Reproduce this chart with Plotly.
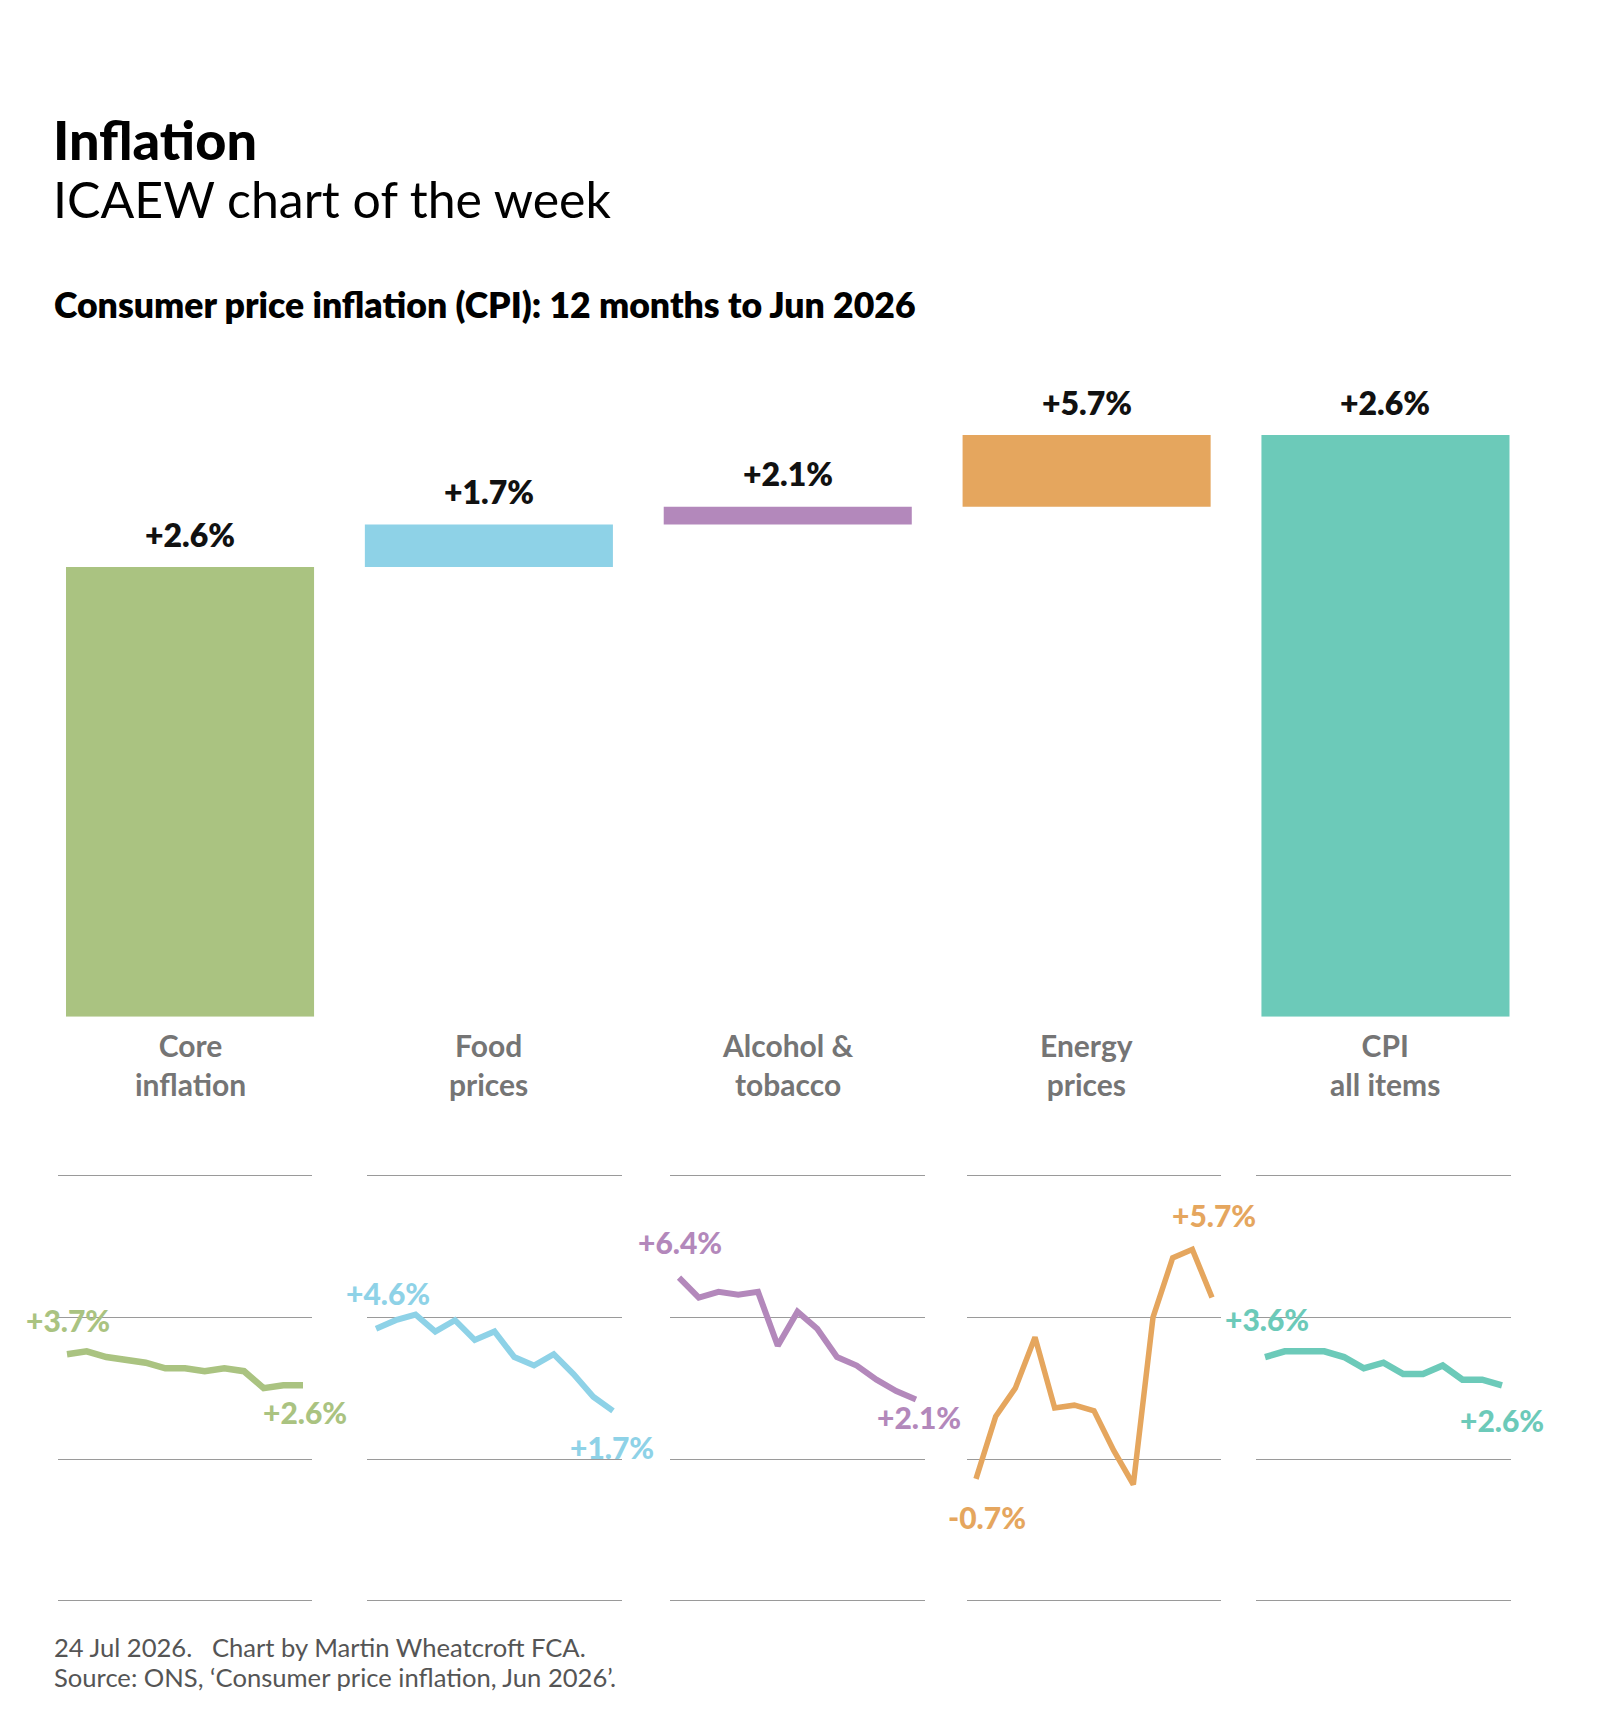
import plotly.graph_objects as go

W, H = 1600, 1730

# ---------------- data ----------------
categories = ["Core", "Food", "Alcohol", "Energy", "CPI"]
category_labels = ["Core<br>inflation", "Food<br>prices", "Alcohol &<br>tobacco", "Energy<br>prices", "CPI<br>all items"]
rate_labels = ["+2.6%", "+1.7%", "+2.1%", "+5.7%", "+2.6%"]
contributions = [2.01, 0.19, 0.08, 0.32, 2.60]   # percentage-point contribution to CPI
is_total = [False, False, False, False, True]
colors = ["#aac381", "#8ed2e7", "#b388bb", "#e5a65e", "#6ccab9"]

months = ["Jun 25", "Jul 25", "Aug 25", "Sep 25", "Oct 25", "Nov 25", "Dec 25",
          "Jan 26", "Feb 26", "Mar 26", "Apr 26", "May 26", "Jun 26"]
core = [3.7, 3.8, 3.6, 3.5, 3.4, 3.2, 3.2, 3.1, 3.2, 3.1, 2.5, 2.6, 2.6]
food = [4.6, 4.9, 5.1, 4.5, 4.9, 4.2, 4.5, 3.6, 3.3, 3.7, 3.0, 2.2, 1.7]
alcohol = [6.4, 5.7, 5.9, 5.8, 5.9, 4.0, 5.2, 4.6, 3.6, 3.3, 2.8, 2.4, 2.1]
energy = [-0.7, 1.5, 2.5, 4.3, 1.8, 1.9, 1.7, 0.3, -0.9, 5.0, 7.1, 7.4, 5.7]
cpi = [3.6, 3.8, 3.8, 3.8, 3.6, 3.2, 3.4, 3.0, 3.0, 3.3, 2.8, 2.8, 2.6]
spark_ticks = [-5, 0, 5, 10]

series = [core, food, alcohol, energy, cpi]

# ---------------- layout helpers ----------------
FONT = "Lato"


def px_x(p):
    return p / W


def px_y(p):
    return 1 - p / H


# waterfall bases
bases, tops = [], []
running = 0.0
for c, tot in zip(contributions, is_total):
    if tot:
        bases.append(0.0)
        tops.append(c)
    else:
        bases.append(running)
        running += c
        tops.append(running)

fig = go.Figure()

fig.add_trace(go.Bar(
    x=categories, y=contributions, base=bases,
    marker=dict(color=colors, line=dict(width=0)),
    width=0.83, hoverinfo="skip", showlegend=False,
    xaxis="x", yaxis="y",
))

# bar axes: baseline at y=1016.7px, 223.7 px per percentage point
bar_base_px = 1016.7
bar_scale = 223.7
bar_top_val = 3.0
bar_top_px = bar_base_px - bar_top_val * bar_scale

layout_axes = dict(
    xaxis=dict(domain=[px_x(40.6), px_x(1534.9)], range=[-0.5, 4.5], showticklabels=False,
               showgrid=False, zeroline=False, showline=False, fixedrange=True),
    yaxis=dict(domain=[px_y(bar_base_px), px_y(bar_top_px)], range=[0, bar_top_val],
               showticklabels=False, showgrid=False, zeroline=False, showline=False),
)

annotations = []

for cat, top, lab in zip(categories, tops, rate_labels):
    annotations.append(dict(xref="x", yref="y", x=cat, y=top, text=lab,
                            showarrow=False, yshift=33, xanchor="center", yanchor="middle",
                            font=dict(family=FONT, size=32, color="#111111", weight=800)))

for cat, lab in zip(categories, category_labels):
    annotations.append(dict(xref="x", yref="paper", x=cat, y=px_y(1064), text=lab,
                            showarrow=False, xanchor="center", yanchor="middle",
                            font=dict(family=FONT, size=30, color="#757575", weight=700)))

# ---------------- sparklines ----------------
panels = [(58, 312), (367, 622), (670, 925), (967, 1221), (1256, 1511)]
spark_top_px, spark_bot_px = 1160, 1615
zero_px, spark_scale = 1459, 28.33
y_hi = (zero_px - spark_top_px) / spark_scale
y_lo = (zero_px - spark_bot_px) / spark_scale
pad = 9 / 19.67
line_widths = [6.5, 6, 6, 5.5, 6.5]

# per-label offsets (x px, y px) for first and last value labels
start_shift = [(1, 34), (12, 36), (1, 36), (11, -38), (2, 38)]
end_shift = [(2, -27), (-1, -36), (3, -17), (2, 83), (0, -35)]

for i, (vals, col, (x0, x1)) in enumerate(zip(series, colors, panels)):
    n = i + 2
    xa, ya = f"xaxis{n}", f"yaxis{n}"
    layout_axes[xa] = dict(domain=[px_x(x0), px_x(x1)], range=[-pad, len(months) - 1 + pad],
                           showticklabels=False, showgrid=False, zeroline=False, showline=False,
                           anchor=f"y{n}")
    layout_axes[ya] = dict(domain=[px_y(spark_bot_px), px_y(spark_top_px)], range=[y_lo, y_hi],
                           tickvals=spark_ticks, showticklabels=False, showgrid=True,
                           gridcolor="#9a9a9a", gridwidth=1.3, zeroline=False, showline=False,
                           anchor=f"x{n}")
    fig.add_trace(go.Scatter(
        x=list(range(len(months))), y=vals, mode="lines",
        line=dict(color=col, width=line_widths[i], shape="linear"),
        hoverinfo="skip", showlegend=False, xaxis=f"x{n}", yaxis=f"y{n}",
    ))
    for idx, (dx, dy) in ((0, start_shift[i]), (len(vals) - 1, end_shift[i])):
        annotations.append(dict(xref=f"x{n}", yref=f"y{n}", x=idx, y=vals[idx],
                                text=f"{vals[idx]:+.1f}%", showarrow=False,
                                xshift=dx, yshift=dy, xanchor="center", yanchor="middle",
                                font=dict(family=FONT, size=30, color=col, weight=900)))

# ---------------- titles & footer ----------------
annotations += [
    dict(xref="paper", yref="paper", x=px_x(51), y=px_y(139), text="Inflation",
         showarrow=False, xanchor="left", yanchor="middle",
         font=dict(family=FONT, size=54, color="#000000", weight=900)),
    dict(xref="paper", yref="paper", x=px_x(51), y=px_y(199), text="ICAEW chart of the week",
         showarrow=False, xanchor="left", yanchor="middle",
         font=dict(family=FONT, size=50, color="#000000")),
    dict(xref="paper", yref="paper", x=px_x(52), y=px_y(305),
         text="Consumer price inflation (CPI): 12 months to Jun 2026",
         showarrow=False, xanchor="left", yanchor="middle",
         font=dict(family=FONT, size=35.6, color="#000000", weight=800)),
    dict(xref="paper", yref="paper", x=px_x(52), y=px_y(1647),
         text="24 Jul 2026.\u00a0\u00a0\u00a0Chart by Martin Wheatcroft FCA.",
         showarrow=False, xanchor="left", yanchor="middle",
         font=dict(family=FONT, size=25.6, color="#555555")),
    dict(xref="paper", yref="paper", x=px_x(52), y=px_y(1677),
         text="Source: ONS, \u2018Consumer price inflation, Jun 2026\u2019.",
         showarrow=False, xanchor="left", yanchor="middle",
         font=dict(family=FONT, size=25.6, color="#555555")),
]

fig.update_layout(
    width=W, height=H,
    margin=dict(l=0, r=0, t=0, b=0),
    paper_bgcolor="#ffffff", plot_bgcolor="rgba(0,0,0,0)",
    showlegend=False,
    annotations=annotations,
    **layout_axes,
)

fig.write_html("out.html", config={"displayModeBar": False})
